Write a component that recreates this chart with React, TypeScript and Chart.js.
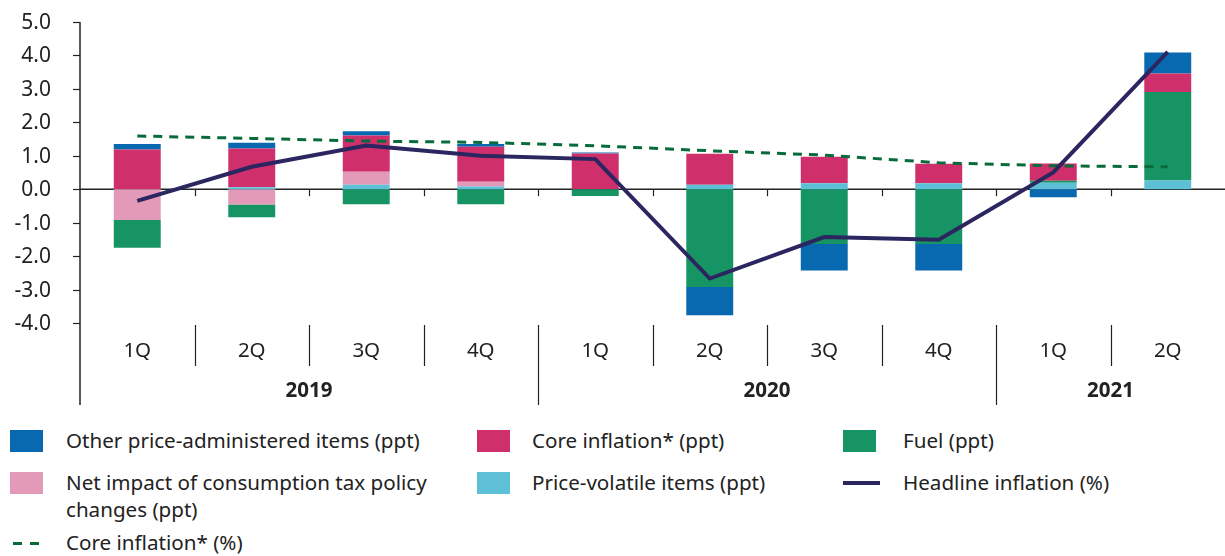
import React, { useEffect, useRef } from "react";
import { Chart, registerables } from "chart.js";
Chart.register(...registerables);

const quarters = ["1Q", "2Q", "3Q", "4Q", "1Q", "2Q", "3Q", "4Q", "1Q", "2Q"];
const yearLabels = ["2019", "2020", "2021"];
const yearSpans = [4, 4, 2];

const priceVolatile = [0, 0.06, 0.13, 0.08, 0, 0.13, 0.18, 0.18, 0.19, 0.26];
const taxImpact = [-0.92, -0.46, 0.39, 0.14, 0, 0, 0, 0, 0, 0];
const fuel = [-0.83, -0.38, -0.45, -0.45, -0.2, -2.92, -1.64, -1.64, 0.06, 2.65];
const coreContrib = [1.19, 1.16, 1.09, 1.05, 1.07, 0.93, 0.79, 0.58, 0.52, 0.55];
const otherAdmin = [0.16, 0.17, 0.12, 0.08, 0.03, -0.85, -0.79, -0.79, -0.24, 0.63];
const headline = [-0.35, 0.67, 1.31, 1.0, 0.9, -2.67, -1.43, -1.51, 0.5, 4.11];
const coreInflation = [1.59, 1.52, 1.44, 1.4, 1.3, 1.15, 1.02, 0.79, 0.7, 0.67];

const C = {
  admin: "#0868b0",
  core: "#cf306b",
  fuel: "#179463",
  tax: "#e39ab9",
  vol: "#5ec0d6",
  headline: "#2b2560",
  coreLine: "#0a6b3a",
};
const FONT = "'Noto Sans', sans-serif";
const TEXT = "#222";

const axisPlugin = {
  id: "customAxis",
  beforeDatasetsDraw(chart: any) {
    const { ctx, chartArea, scales } = chart;
    const y0 = scales.y.getPixelForValue(0);
    ctx.save();
    ctx.strokeStyle = "#222";
    ctx.lineWidth = 1.5;
    ctx.beginPath();
    ctx.moveTo(chartArea.left, y0);
    ctx.lineTo(chartArea.right, y0);
    ctx.stroke();
    ctx.restore();
  },
  afterDraw(chart: any) {
    const { ctx, chartArea, scales } = chart;
    const x = scales.x;
    const ys = scales.y;
    const y0 = ys.getPixelForValue(0);
    const n = quarters.length;
    const half = (x.getPixelForValue(1) - x.getPixelForValue(0)) / 2;
    ctx.save();
    // y tick labels and tick marks
    ctx.fillStyle = TEXT;
    ctx.strokeStyle = "#222";
    ctx.lineWidth = 1.2;
    ctx.textAlign = "right";
    ctx.textBaseline = "middle";
    ctx.font = `21px ${FONT}`;
    ys.ticks.forEach((t: any) => {
      const py = Math.round(ys.getPixelForValue(t.value)) + 0.5;
      ctx.fillText(Number(t.value).toFixed(1), chartArea.left - 29, py + 1);
      ctx.beginPath();
      ctx.moveTo(chartArea.left - 7, py);
      ctx.lineTo(chartArea.left, py);
      ctx.stroke();
    });
    for (let i = 1; i < n; i++) {
      const bx = Math.round(x.getPixelForValue(i) - half) + 0.5;
      ctx.beginPath();
      ctx.moveTo(bx, y0);
      ctx.lineTo(bx, y0 + 7);
      ctx.stroke();
    }
    const base = chartArea.bottom;
    ctx.lineWidth = 1.5;
    ctx.beginPath();
    ctx.moveTo(chartArea.left, chartArea.top);
    ctx.lineTo(chartArea.left, base + 82);
    ctx.stroke();
    ctx.lineWidth = 1.2;
    const yearStarts: number[] = [];
    let acc = 0;
    yearSpans.forEach((s) => {
      yearStarts.push(acc);
      acc += s;
    });
    for (let i = 1; i < n; i++) {
      const bx = Math.round(x.getPixelForValue(i) - half) + 0.5;
      const isYear = yearStarts.includes(i);
      ctx.beginPath();
      ctx.moveTo(bx, base + 2);
      ctx.lineTo(bx, isYear ? base + 82 : base + 43);
      ctx.stroke();
    }
    ctx.textAlign = "center";
    ctx.font = `20.5px ${FONT}`;
    quarters.forEach((q, i) => {
      ctx.fillText(q, x.getPixelForValue(i), base + 28);
    });
    ctx.font = `bold 20.5px ${FONT}`;
    yearLabels.forEach((yl, k) => {
      const s = yearStarts[k];
      const e = s + yearSpans[k] - 1;
      const left = x.getPixelForValue(s) - half;
      const right = Math.min(x.getPixelForValue(e) + half, chartArea.right);
      ctx.fillText(yl, (left + right) / 2, base + 68);
    });
    ctx.restore();
  },
};

const legendItems = [
  { label: "Other price-administered items (ppt)", color: C.admin, type: "box", x: 10, tx: 66, y: 441 },
  { label: "Core inflation* (ppt)", color: C.core, type: "box", x: 477, tx: 532, y: 441 },
  { label: "Fuel (ppt)", color: C.fuel, type: "box", x: 843, tx: 903, y: 441 },
  { label: "Net impact of consumption tax policy\nchanges (ppt)", color: C.tax, type: "box", x: 10, tx: 66, y: 483 },
  { label: "Price-volatile items (ppt)", color: C.vol, type: "box", x: 477, tx: 532, y: 483 },
  { label: "Headline inflation (%)", color: C.headline, type: "line", x: 843, tx: 903, y: 483 },
  { label: "Core inflation* (%)", color: C.coreLine, type: "dash", x: 10, tx: 66, y: 543 },
];

export default function App() {
  const ref = useRef<HTMLCanvasElement>(null);
  useEffect(() => {
    document.body.style.margin = "0";
    const barDs = (label: string, data: number[], color: string) => ({
      type: "bar" as const,
      label,
      data,
      backgroundColor: color,
      borderWidth: 0,
      stack: "bars",
      order: 2,
      barPercentage: 0.41,
      categoryPercentage: 1,
    });
    const chart = new Chart(ref.current!, {
      type: "bar",
      data: {
        labels: quarters,
        datasets: [
          barDs("Price-volatile items (ppt)", priceVolatile, C.vol),
          barDs("Net impact of consumption tax policy changes (ppt)", taxImpact, C.tax),
          barDs("Fuel (ppt)", fuel, C.fuel),
          barDs("Core inflation* (ppt)", coreContrib, C.core),
          barDs("Other price-administered items (ppt)", otherAdmin, C.admin),
          {
            type: "line" as const,
            label: "Core inflation* (%)",
            data: coreInflation,
            borderColor: C.coreLine,
            borderWidth: 3,
            borderDash: [9, 7],
            pointRadius: 0,
            tension: 0,
            stack: "coreLine",
            order: 1,
          } as any,
          {
            type: "line" as const,
            label: "Headline inflation (%)",
            data: headline,
            borderColor: C.headline,
            borderWidth: 4,
            pointRadius: 0,
            tension: 0,
            stack: "headLine",
            order: 0,
          } as any,
        ],
      },
      options: {
        animation: false,
        responsive: false,
        maintainAspectRatio: false,
        layout: { padding: { top: 22, bottom: 97, left: 0, right: 0 } },
        plugins: { legend: { display: false }, tooltip: { enabled: false } },
        scales: {
          x: { display: false, stacked: true, offset: true },
          y: {
            stacked: true,
            min: -4,
            max: 5,
            afterFit: (s: any) => {
              s.width = 80;
            },
            ticks: { stepSize: 1, display: false },
            grid: { display: false },
            border: { display: false },
          },
        },
      },
      plugins: [axisPlugin],
    });
    return () => chart.destroy();
  }, []);

  return (
    <div style={{ position: "relative", width: 1225, height: 556, background: "#fff", fontFamily: FONT, color: TEXT }}>
      <canvas ref={ref} width={1225} height={420} style={{ position: "absolute", left: 0, top: 0, width: 1225, height: 420 }} />
      {legendItems.map((it, i) => (
        <div key={i}>
          {it.type === "box" && (
            <div style={{ position: "absolute", left: it.x, top: it.y - 11, width: 33, height: 22, background: it.color }} />
          )}
          {it.type === "line" && (
            <div style={{ position: "absolute", left: it.x, top: it.y - 2, width: 37, height: 4, background: it.color }} />
          )}
          {it.type === "dash" && (
            <>
              <div style={{ position: "absolute", left: 13, top: it.y - 1.5, width: 9, height: 3, background: it.color }} />
              <div style={{ position: "absolute", left: 30, top: it.y - 1.5, width: 9, height: 3, background: it.color }} />
            </>
          )}
          <div
            style={{
              position: "absolute",
              left: it.tx,
              top: it.y - 14,
              fontSize: 20.6,
              lineHeight: "27px",
              whiteSpace: "pre",
            }}
          >
            {it.label}
          </div>
        </div>
      ))}
    </div>
  );
}
